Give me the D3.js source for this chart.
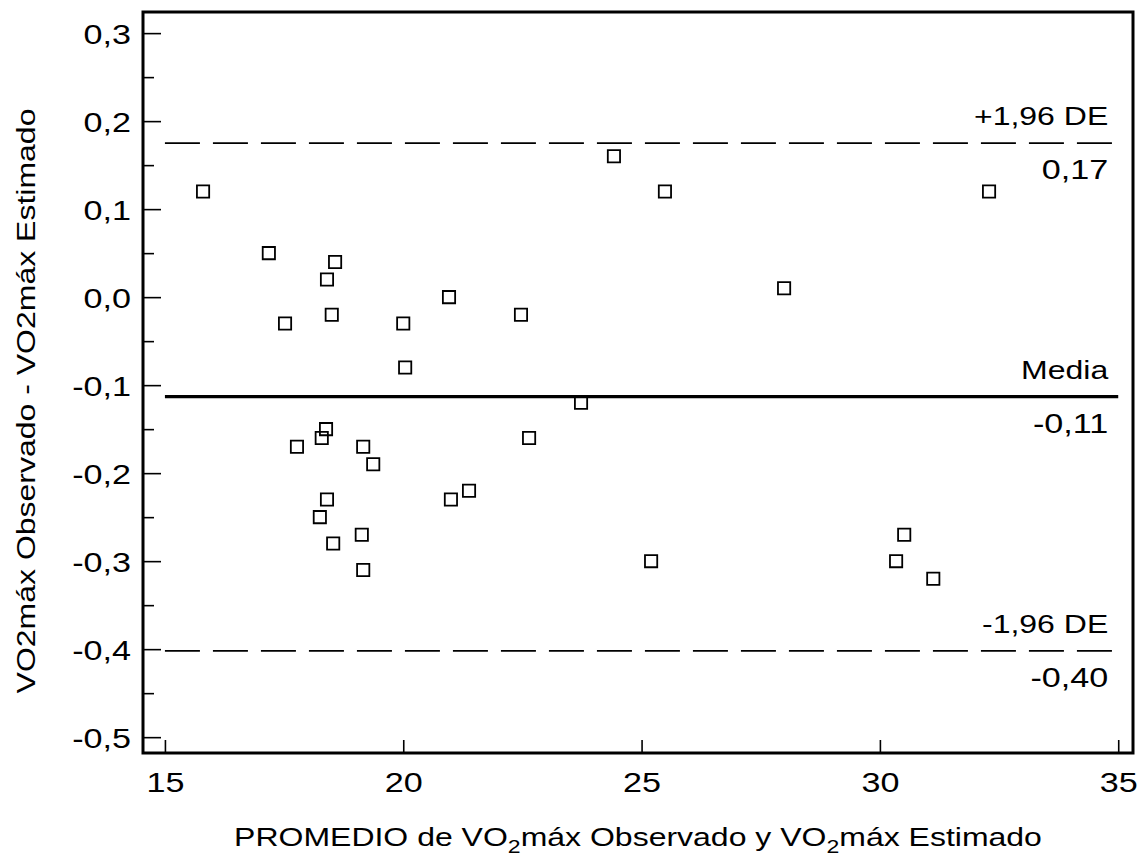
<!DOCTYPE html>
<html>
<head>
<meta charset="utf-8">
<script src="https://cdn.jsdelivr.net/npm/d3@7"></script>
<style>
  body { margin: 0; background: #fff; }
  svg { display: block; font-family: "Liberation Sans", Arial, sans-serif; }
</style>
</head>
<body>
<div id="chart"></div>
<script>
// promedio (eje x) y diferencia observado - estimado (eje y), un valor por sujeto
const promedio = [15.8, 17.18, 17.52, 17.77, 18.40, 18.57, 18.50, 18.38, 18.29, 18.40, 18.25, 18.53,
  19.16, 19.37, 19.13, 19.16, 20.0, 20.04, 20.96, 21.0, 21.38, 22.47, 22.64, 23.73, 24.42, 25.2,
  25.49, 27.99, 30.34, 30.51, 31.12, 32.29];
const diferencia = [0.12, 0.05, -0.03, -0.17, 0.02, 0.04, -0.02, -0.15, -0.16, -0.23, -0.25, -0.28,
  -0.17, -0.19, -0.27, -0.31, -0.03, -0.08, 0.00, -0.23, -0.22, -0.02, -0.16, -0.12, 0.16, -0.30,
  0.12, 0.01, -0.30, -0.27, -0.32, 0.12];

// media y limites de concordancia
const limites = [0.175, -0.113, -0.402];
const limiteNombres = ['+1,96 DE', 'Media', '-1,96 DE'];
const limiteValores = ['0,17', '-0,11', '-0,40'];

const xTicks = [15, 20, 25, 30, 35];
const yTicks = [-0.5, -0.4, -0.3, -0.2, -0.1, 0.0, 0.1, 0.2, 0.3];
const yMinor = [-0.45, -0.35, -0.25, -0.15, -0.05, 0.05, 0.15, 0.25];

const width = 1139, height = 859;
const plot = { left: 143, right: 1133, top: 12, bottom: 753 };
const S = 1.28; // texto algo ensanchado como en el original
const ST = 1.22; // numeros de los ejes

const locale = d3.formatLocale({ decimal: ',', thousands: '.', grouping: [3], currency: ['', ''], minus: '-' });
const fmt = locale.format('.1f');

const svg = d3.select('#chart').append('svg')
  .attr('width', width)
  .attr('height', height);

svg.append('rect').attr('width', width).attr('height', height).attr('fill', '#fff');

const x = d3.scaleLinear().domain([14.54, 35.31]).range([plot.left, plot.right]);
const y = d3.scaleLinear().domain([-0.518, 0.324]).range([plot.bottom, plot.top]);

// stretch axis labels horizontally around their anchor
function stretch(sel) {
  sel.each(function () {
    const t = d3.select(this);
    const tx = +t.attr('x') || 0, ty = +t.attr('y') || 0;
    t.attr('x', 0).attr('y', 0).attr('transform', `translate(${tx},${ty}) scale(${ST},1)`);
  });
}

// y axis, ticks inside
const yAxis = svg.append('g')
  .attr('transform', `translate(${plot.left},0)`)
  .call(d3.axisLeft(y).tickValues(yTicks).tickFormat(fmt).tickSize(-18).tickPadding(12));
yAxis.select('.domain').remove();
yAxis.selectAll('line').attr('stroke', '#000').attr('stroke-width', 1.6);
yAxis.selectAll('text')
  .attr('dy', '0.36em')
  .style('font-size', '28px')
  .attr('fill', '#000')
  .call(stretch);

const yAxisMinor = svg.append('g')
  .attr('transform', `translate(${plot.left},0)`)
  .call(d3.axisLeft(y).tickValues(yMinor).tickFormat('').tickSize(-11));
yAxisMinor.select('.domain').remove();
yAxisMinor.selectAll('line').attr('stroke', '#000').attr('stroke-width', 1.6);

// x axis
const xAxis = svg.append('g')
  .attr('transform', `translate(0,${plot.bottom})`)
  .call(d3.axisBottom(x).tickValues(xTicks).tickFormat(d3.format('d')).tickSize(-13).tickPadding(19));
xAxis.select('.domain').remove();
xAxis.selectAll('line').attr('stroke', '#000').attr('stroke-width', 1.6);
xAxis.selectAll('text')
  .style('font-size', '28px')
  .attr('fill', '#000')
  .call(stretch);

// frame
svg.append('rect')
  .attr('x', plot.left)
  .attr('y', plot.top)
  .attr('width', plot.right - plot.left)
  .attr('height', plot.bottom - plot.top)
  .attr('fill', 'none')
  .attr('stroke', '#000')
  .attr('stroke-width', 3);

// mean and limit lines
const x0 = x(xTicks[0]), x1 = x(xTicks[xTicks.length - 1]);
limites.forEach((v, i) => {
  const isMean = i === 1;
  svg.append('line')
    .attr('x1', x0).attr('x2', x1)
    .attr('y1', y(v)).attr('y2', y(v))
    .attr('stroke', '#000')
    .attr('stroke-width', isMean ? 3.2 : 1.6)
    .attr('stroke-dasharray', isMean ? null : '35,13');

  svg.append('text')
    .attr('transform', `translate(${x1 - 10},${y(v) - 18}) scale(${S},1)`)
    .attr('text-anchor', 'end')
    .style('font-size', '25px')
    .text(limiteNombres[i]);

  svg.append('text')
    .attr('transform', `translate(${x1 - 10},${y(v) + 36}) scale(${ST},1)`)
    .attr('text-anchor', 'end')
    .style('font-size', '28px')
    .text(limiteValores[i]);
});

// points
const square = d3.symbol(d3.symbolSquare, 150);
svg.append('g')
  .selectAll('path')
  .data(promedio)
  .enter().append('path')
  .attr('d', square)
  .attr('transform', (d, i) => `translate(${x(d)},${y(diferencia[i])})`)
  .attr('fill', 'none')
  .attr('stroke', '#000')
  .attr('stroke-width', 1.8);

// axis titles
const xTitle = svg.append('text')
  .attr('transform', `translate(${(plot.left + plot.right) / 2},846) scale(${S},1)`)
  .attr('text-anchor', 'middle')
  .style('font-size', '25px');
xTitle.append('tspan').text('PROMEDIO de VO');
xTitle.append('tspan').attr('dy', 7).style('font-size', '18px').text('2');
xTitle.append('tspan').attr('dy', -7).text('máx Observado y VO');
xTitle.append('tspan').attr('dy', 7).style('font-size', '18px').text('2');
xTitle.append('tspan').attr('dy', -7).text('máx Estimado');

svg.append('text')
  .attr('transform', `translate(35,401) rotate(-90) scale(${S},1)`)
  .attr('text-anchor', 'middle')
  .style('font-size', '25px')
  .text('VO2máx Observado - VO2máx Estimado');
</script>
</body>
</html>
